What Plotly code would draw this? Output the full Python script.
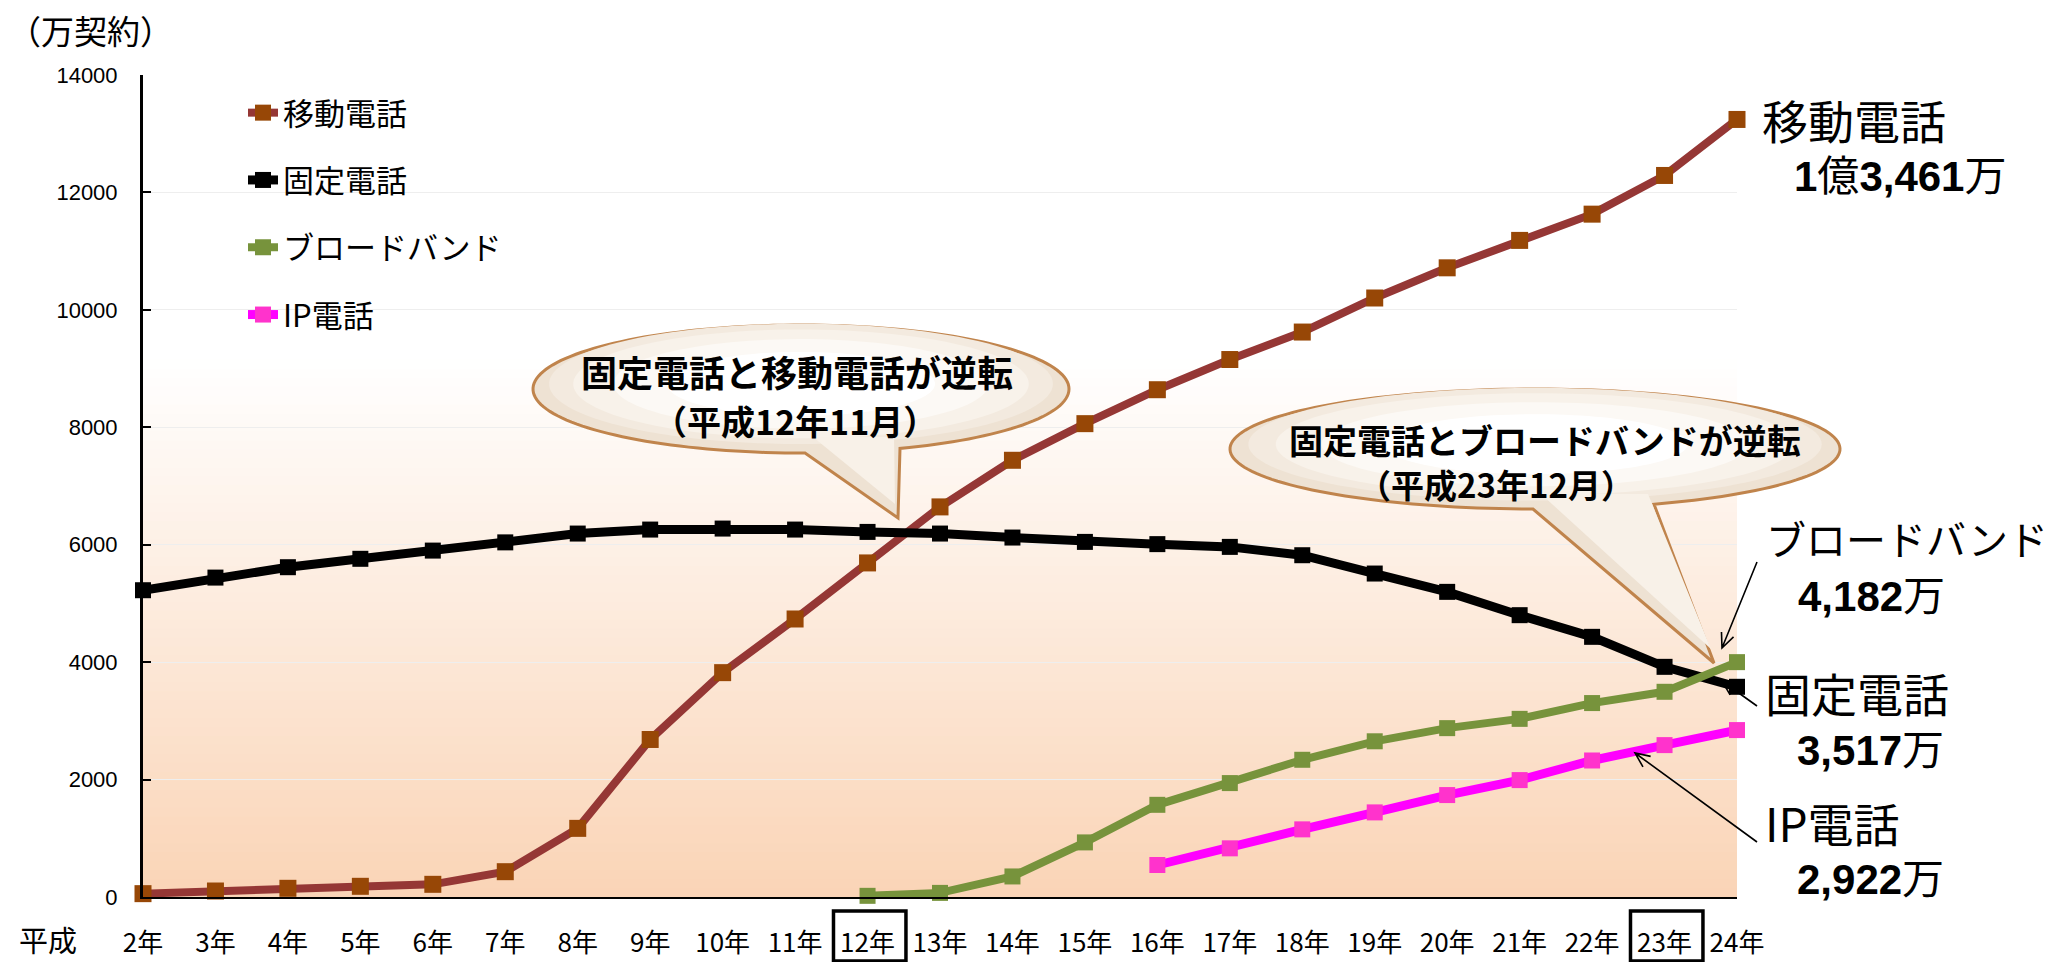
import numpy as np
import plotly.graph_objects as go

# ---------------- data ----------------
years = ["2年", "3年", "4年", "5年", "6年", "7年", "8年", "9年", "10年", "11年", "12年", "13年",
         "14年", "15年", "16年", "17年", "18年", "19年", "20年", "21年", "22年", "23年", "24年"]
mobile = [57, 102, 148, 182, 216, 431, 1169, 2683, 3821, 4735, 5690, 6644, 7438, 8062, 8640,
          9154, 9622, 10202, 10716, 11183, 11630, 12289, 13243]
fixed = [5225, 5440, 5617, 5760, 5900, 6040, 6190, 6258, 6275, 6258, 6218, 6190, 6122, 6048, 6010,
         5963, 5821, 5509, 5197, 4800, 4431, 3920, 3580]
broadband_years = years[10:]
broadband = [20, 70, 350, 930, 1570, 1940, 2337, 2652, 2876, 3034, 3303, 3495, 4000]
ip_years = years[14:]
ip_phone = [545, 829, 1152, 1441, 1736, 1991, 2325, 2587, 2843]
y_ticks = [0, 2000, 4000, 6000, 8000, 10000, 12000, 14000]

xi = {y: i for i, y in enumerate(years)}

# ---------------- geometry (pixels) ----------------
Wfig, Hfig = 2056, 962
L, R, T, B = 143, 1737, 75, 897
PW, PH = R - L, B - T


def px(x):
    return (x - L) / PW


def py(y):
    return (B - y) / PH


def P(x, y):
    return f"{px(x):.5f},{py(y):.5f}"


JP = "Noto Sans CJK JP"

fig = go.Figure()

fig.add_trace(go.Scatter(
    x=[xi[y] for y in years], y=mobile, name="移動電話", legendgroup="a",
    mode="lines+markers", line=dict(color="#953735", width=8),
    marker=dict(symbol="square", size=17, color="#974706"), cliponaxis=False))
fig.add_trace(go.Scatter(
    x=[xi[y] for y in years], y=fixed, name="固定電話", legendgroup="b",
    mode="lines+markers", line=dict(color="#000000", width=9),
    marker=dict(symbol="square", size=16, color="#000000"), cliponaxis=False))
fig.add_trace(go.Scatter(
    x=[xi[y] for y in broadband_years], y=broadband, name="ブロードバンド", legendgroup="c",
    mode="lines+markers", line=dict(color="#77933C", width=8),
    marker=dict(symbol="square", size=16, color="#77933C"), cliponaxis=False))
fig.add_trace(go.Scatter(
    x=[xi[y] for y in ip_years], y=ip_phone, name="IP電話", legendgroup="d",
    mode="lines+markers", line=dict(color="#FF00FF", width=9),
    marker=dict(symbol="square", size=16, color="#FF33CC"), cliponaxis=False))

shapes = []
# background gradient (white -> peach) in plot area
top_frac = py(360)
nb = 60
c_bot = np.array([250, 212, 182])
c_top = np.array([255, 255, 255])
for k in range(nb):
    f0 = k / nb
    f1 = (k + 1) / nb
    t = (k + 0.5) / nb
    c = (c_bot * (1 - t) + c_top * t).round().astype(int)
    shapes.append(dict(type="rect", xref="paper", yref="paper", x0=0, x1=1,
                       y0=f0 * top_frac, y1=f1 * top_frac + 0.001, layer="below",
                       line=dict(width=0), fillcolor=f"rgb({c[0]},{c[1]},{c[2]})"))


def bubble(cx, cy, rx, ry, b1, b2, tip):
    t1 = np.arccos((b1 - cx) / rx)
    t2 = np.arccos((b2 - cx) / rx)
    ts = np.linspace(t1, 2 * np.pi + t2, 160)
    pts = [P(cx + rx * np.cos(t), cy + ry * np.sin(t)) for t in ts]
    path = "M " + " L ".join(pts) + " L " + P(*tip) + " Z"
    out = [dict(type="path", xref="paper", yref="paper", path=path,
                fillcolor="#EEE2D3", line=dict(color="#C0844C", width=3))]
    for s, col in [(0.94, "#F3EADF"), (0.85, "#F8F2EA"), (0.7, "#FCF9F5"), (0.5, "#FFFFFF")]:
        ts2 = np.linspace(0, 2 * np.pi, 120)
        p2 = [P(cx + rx * s * np.cos(t), cy - ry * 0.08 + ry * s * np.sin(t)) for t in ts2]
        out.append(dict(type="path", xref="paper", yref="paper",
                        path="M " + " L ".join(p2) + " Z", fillcolor=col, line=dict(width=0)))
    tail = "M " + P(b1 + 8, cy + ry * 0.75) + " L " + P(b2 - 6, cy + ry * 0.75) + " L " + P(tip[0] - 3, tip[1] - 14) + " Z"
    out.append(dict(type="path", xref="paper", yref="paper", path=tail,
                    fillcolor="#F8F1E8", line=dict(width=0)))
    return out


shapes += bubble(801, 389, 268, 64, 805, 900, (898, 518))
shapes += bubble(1535, 449, 305, 60, 1533, 1654, (1714, 663))


def arrow(x0, y0, x1, y1, hl=16, ang=24):
    d = np.arctan2(y0 - y1, x0 - x1)
    a = np.radians(ang)
    h1 = (x1 + hl * np.cos(d + a), y1 + hl * np.sin(d + a))
    h2 = (x1 + hl * np.cos(d - a), y1 + hl * np.sin(d - a))
    path = ("M " + P(x0, y0) + " L " + P(x1, y1) + " M " + P(*h1) + " L " + P(x1, y1) +
            " L " + P(*h2))
    return dict(type="path", xref="paper", yref="paper", path=path,
                line=dict(color="#000000", width=1.6))


shapes.append(arrow(1757, 562, 1722, 648))
shapes.append(arrow(1757, 706, 1722, 681))
shapes.append(arrow(1757, 842, 1635, 753))

# boxes around 12年 and 23年 tick labels
for lab in ["12年", "23年"]:
    i = xi[lab]
    shapes.append(dict(type="rect", xref="x", yref="paper", x0=i - 0.47, x1=i + 0.53,
                       y0=py(961), y1=py(911), line=dict(color="#000000", width=3.5),
                       fillcolor="rgba(0,0,0,0)"))

annotations = []


def txt(text, x, y, size, xanchor="left", family=JP, bold=False):
    if bold:
        text = "<b>" + text + "</b>"
    annotations.append(dict(text=text, x=px(x), y=py(y), xref="paper", yref="paper",
                            xanchor=xanchor, yanchor="middle", showarrow=False,
                            font=dict(family=family, size=size, color="#000000")))


NUM = "Liberation Sans Narrow, Arial Narrow, Liberation Sans, " + JP
txt("（万契約）", 6, 30, 33)
txt("平成", 48, 939, 29, xanchor="center")
txt("移動電話", 1760, 119, 46)
txt("<b>1</b>億<b>3,461</b>万", 1792, 177, 42, family=NUM)
txt("ブロードバンド", 1764, 538, 40)
txt("<b>4,182</b>万", 1796, 596, 42, family=NUM)
txt("固定電話", 1763, 692, 46)
txt("<b>3,517</b>万", 1795, 750, 42, family=NUM)
txt("IP電話", 1763, 822, 46)
txt("<b>2,922</b>万", 1795, 879, 42, family=NUM)
txt("固定電話と移動電話が逆転", 797, 371, 36, xanchor="center", bold=True)
txt("（平成12年11月）", 795, 420, 34, xanchor="center", bold=True)
txt("固定電話とブロードバンドが逆転", 1545, 439, 34, xanchor="center", bold=True)
txt("（平成23年12月）", 1496, 484, 33, xanchor="center", bold=True)

fig.update_layout(
    width=Wfig, height=Hfig,
    margin=dict(l=L, r=Wfig - R, t=T, b=Hfig - B, pad=0, autoexpand=False),
    paper_bgcolor="#FFFFFF", plot_bgcolor="#FFFFFF",
    font=dict(family="Liberation Sans, Arial, " + JP, color="#000000"),
    shapes=shapes, annotations=annotations,
    showlegend=True,
    legend=dict(x=px(243), y=py(86), xanchor="left", yanchor="top",
                bgcolor="rgba(0,0,0,0)", font=dict(family=JP, size=31, color="#000000"),
                tracegroupgap=24, traceorder="grouped"),
    xaxis=dict(range=[0, len(years) - 1], tickmode="array",
               tickvals=list(range(len(years))), ticktext=years,
               showline=True, linecolor="#000000", linewidth=1.5,
               showgrid=False, zeroline=False, ticks="", automargin=False,
               tickfont=dict(family="Liberation Sans Narrow, Arial Narrow, " + JP, size=26),
               ticklabelstandoff=22),
    yaxis=dict(range=[0, 14000], tickmode="array", tickvals=y_ticks,
               ticktext=[str(v) for v in y_ticks], automargin=False,
               showline=True, linecolor="#000000", linewidth=3,
               ticks="inside", ticklen=8, tickwidth=2, tickcolor="#000000",
               showgrid=True, gridcolor="#EEEEEE", gridwidth=1, zeroline=False,
               tickfont=dict(family="Liberation Sans, Arial", size=22),
               ticklabelstandoff=18),
)

fig.write_html("out.html")
